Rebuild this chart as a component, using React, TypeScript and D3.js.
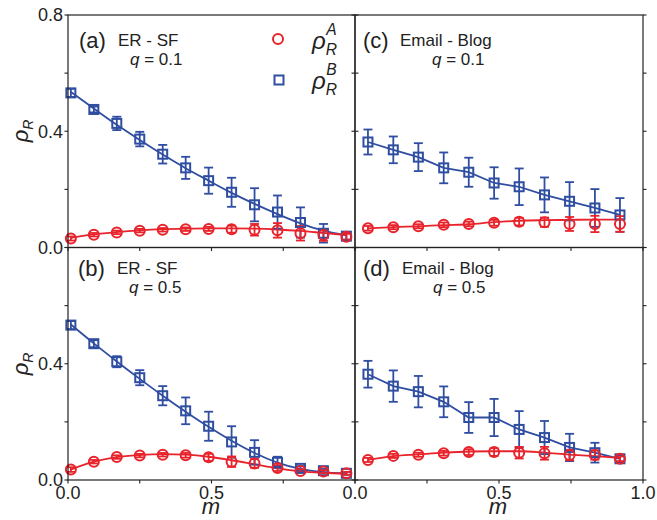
import React from "react";
import * as d3 from "d3";

const mER = [0.01, 0.09, 0.17, 0.25, 0.33, 0.41, 0.49, 0.57, 0.65, 0.73, 0.81, 0.89, 0.97];
const mEB = [0.045, 0.133, 0.22, 0.308, 0.395, 0.483, 0.57, 0.658, 0.745, 0.833, 0.92];

// panel (a)
const aB = [0.532, 0.475, 0.427, 0.373, 0.321, 0.274, 0.23, 0.19, 0.147, 0.122, 0.086, 0.049, 0.039];
const aBerr = [0.014, 0.01, 0.023, 0.025, 0.032, 0.038, 0.045, 0.05, 0.057, 0.057, 0.052, 0.032, 0.012];
const aBfit = [0.535, 0.478, 0.422, 0.37, 0.32, 0.273, 0.23, 0.188, 0.15, 0.115, 0.083, 0.058, 0.042];
const aA = [0.031, 0.044, 0.052, 0.058, 0.061, 0.063, 0.064, 0.063, 0.061, 0.059, 0.049, 0.043, 0.037];
const aAerr = [0.007, 0.006, 0.006, 0.006, 0.006, 0.006, 0.007, 0.012, 0.02, 0.025, 0.025, 0.02, 0.01];
const aAfit = [0.033, 0.045, 0.053, 0.059, 0.063, 0.065, 0.066, 0.066, 0.065, 0.062, 0.057, 0.05, 0.043];

// panel (b)
const bB = [0.533, 0.469, 0.407, 0.352, 0.29, 0.238, 0.185, 0.131, 0.095, 0.061, 0.04, 0.032, 0.023];
const bBerr = [0.014, 0.012, 0.019, 0.026, 0.033, 0.046, 0.05, 0.054, 0.042, 0.019, 0.008, 0.006, 0.005];
const bBfit = [0.535, 0.47, 0.408, 0.348, 0.29, 0.235, 0.183, 0.135, 0.093, 0.06, 0.038, 0.027, 0.022];
const bA = [0.036, 0.063, 0.079, 0.084, 0.087, 0.085, 0.078, 0.063, 0.057, 0.041, 0.031, 0.029, 0.023];
const bAerr = [0.008, 0.006, 0.006, 0.006, 0.006, 0.008, 0.012, 0.018, 0.015, 0.01, 0.006, 0.005, 0.005];
const bAfit = [0.036, 0.063, 0.079, 0.086, 0.089, 0.087, 0.08, 0.068, 0.054, 0.04, 0.03, 0.025, 0.022];

// panel (c)
const cB = [0.363, 0.336, 0.311, 0.274, 0.259, 0.222, 0.209, 0.181, 0.159, 0.136, 0.112];
const cBerr = [0.043, 0.046, 0.048, 0.053, 0.05, 0.054, 0.063, 0.06, 0.066, 0.065, 0.058];
const cA = [0.066, 0.07, 0.073, 0.078, 0.081, 0.085, 0.089, 0.087, 0.081, 0.081, 0.081];
const cAerr = [0.008, 0.007, 0.007, 0.008, 0.008, 0.01, 0.013, 0.016, 0.024, 0.028, 0.027];
const cAfit = [0.066, 0.07, 0.073, 0.077, 0.08, 0.087, 0.092, 0.094, 0.095, 0.096, 0.096];

// panel (d)
const dB = [0.364, 0.323, 0.304, 0.269, 0.215, 0.215, 0.174, 0.146, 0.112, 0.094, 0.073];
const dBerr = [0.046, 0.054, 0.054, 0.053, 0.053, 0.064, 0.063, 0.057, 0.047, 0.034, 0.013];
const dA = [0.069, 0.083, 0.087, 0.092, 0.096, 0.096, 0.094, 0.092, 0.086, 0.086, 0.073];
const dAerr = [0.007, 0.007, 0.007, 0.008, 0.01, 0.013, 0.02, 0.022, 0.018, 0.016, 0.008];
const dAfit = [0.069, 0.082, 0.088, 0.094, 0.098, 0.099, 0.099, 0.094, 0.087, 0.082, 0.075];

const yTickVals = [0, 0.2, 0.4, 0.6, 0.8];
const xTickVals = [0, 0.25, 0.5, 0.75, 1.0];

const RED = "#e8232b";
const BLUE = "#2f4ea2";
const FONT = "'Liberation Sans', Arial, sans-serif";

type PanelSpec = {
  x0: number; x1: number; y0: number; y1: number;
  m: number[];
  B: number[]; Berr: number[]; Bfit: number[];
  A: number[]; Aerr: number[]; Afit: number[];
  smooth: boolean;
  tag: string; net: string; q: string;
  tagX: number; netX: number; qX: number; baseY: number; qY: number;
  yLabels: string[]; xLabels: number[];
};

const fmt = (v: number) => v.toFixed(1);

function Panel({ p }: { p: PanelSpec }) {
  const x = d3.scaleLinear().domain([0, 1]).range([p.x0, p.x1]);
  const y = d3.scaleLinear().domain([0, 0.8]).range([p.y1, p.y0]);
  const line = d3
    .line<number>()
    .x((_, i) => x(p.m[i]))
    .y((v) => y(v))
    .curve(p.smooth ? d3.curveMonotoneX : d3.curveLinear);
  const lineA = d3.line<number>().x((_, i) => x(p.m[i])).y((v) => y(v)).curve(d3.curveMonotoneX);
  const cap = 4.5;
  const tl = 3.5;
  const errBars = (vals: number[], errs: number[], color: string, key: string) =>
    vals.map((v, i) => (
      <g key={key + i} stroke={color} strokeWidth={1.8}>
        <line x1={x(p.m[i])} x2={x(p.m[i])} y1={y(v - errs[i])} y2={y(v + errs[i])} />
        <line x1={x(p.m[i]) - cap} x2={x(p.m[i]) + cap} y1={y(v - errs[i])} y2={y(v - errs[i])} />
        <line x1={x(p.m[i]) - cap} x2={x(p.m[i]) + cap} y1={y(v + errs[i])} y2={y(v + errs[i])} />
      </g>
    ));
  return (
    <g>
      <path d={line(p.Bfit) || ""} fill="none" stroke={BLUE} strokeWidth={1.8} />
      <path d={lineA(p.Afit) || ""} fill="none" stroke={RED} strokeWidth={1.8} />
      {errBars(p.B, p.Berr, BLUE, "be")}
      {errBars(p.A, p.Aerr, RED, "ae")}
      {p.B.map((v, i) => (
        <rect key={"bs" + i} x={x(p.m[i]) - 4.5} y={y(v) - 4.5} width={9} height={9} fill="none" stroke={BLUE} strokeWidth={2} />
      ))}
      {p.A.map((v, i) => (
        <circle key={"ac" + i} cx={x(p.m[i])} cy={y(v)} r={5} fill="none" stroke={RED} strokeWidth={2} />
      ))}
      <rect x={p.x0} y={p.y0} width={p.x1 - p.x0} height={p.y1 - p.y0} fill="none" stroke="#222" strokeWidth={1.2} />
      {yTickVals.map((t) => (
        <g key={"yt" + t} stroke="#222" strokeWidth={1.1}>
          <line x1={p.x0 - tl} x2={p.x0} y1={y(t)} y2={y(t)} />
          <line x1={p.x1} x2={p.x1 + tl} y1={y(t)} y2={y(t)} />
        </g>
      ))}
      {xTickVals.map((t) => (
        <line key={"xt" + t} x1={x(t)} x2={x(t)} y1={p.y1} y2={p.y1 + tl} stroke="#222" strokeWidth={1.1} />
      ))}
      {p.yLabels.map((s) => (
        <text key={"yl" + s} x={p.x0 - 5} y={y(+s)} dy="0.35em" textAnchor="end" fontSize={18} fontFamily={FONT} fill="#222">
          {s}
        </text>
      ))}
      {p.xLabels.map((t) => (
        <text key={"xl" + t} x={x(t)} y={p.y1 + 19} textAnchor="middle" fontSize={18} fontFamily={FONT} fill="#222">
          {fmt(t)}
        </text>
      ))}
      <text x={p.tagX} y={p.baseY + 2} fontSize={22} fontFamily={FONT} fill="#222">{p.tag}</text>
      <text x={p.netX} y={p.baseY} fontSize={17} fontFamily={FONT} fill="#222">{p.net}</text>
      <text x={p.qX} y={p.qY} fontSize={17} fontFamily={FONT} fill="#222">
        <tspan fontStyle="italic">q</tspan> = {p.q}
      </text>
    </g>
  );
}

const panels: PanelSpec[] = [
  { x0: 68, x1: 355, y0: 15, y1: 247.5, m: mER, B: aB, Berr: aBerr, Bfit: aBfit, A: aA, Aerr: aAerr, Afit: aAfit, smooth: true,
    tag: "(a)", net: "ER - SF", q: "0.1", tagX: 79, netX: 118, qX: 130, baseY: 46, qY: 65, yLabels: ["0.0", "0.4", "0.8"], xLabels: [] },
  { x0: 68, x1: 355, y0: 247.5, y1: 480, m: mER, B: bB, Berr: bBerr, Bfit: bBfit, A: bA, Aerr: bAerr, Afit: bAfit, smooth: true,
    tag: "(b)", net: "ER - SF", q: "0.5", tagX: 78, netX: 117, qX: 129, baseY: 274, qY: 293, yLabels: ["0.0", "0.4"], xLabels: [0, 0.5] },
  { x0: 355, x1: 643, y0: 15, y1: 247.5, m: mEB, B: cB, Berr: cBerr, Bfit: cB, A: cA, Aerr: cAerr, Afit: cAfit, smooth: false,
    tag: "(c)", net: "Email - Blog", q: "0.1", tagX: 363, netX: 400, qX: 432, baseY: 46, qY: 65, yLabels: [], xLabels: [] },
  { x0: 355, x1: 643, y0: 247.5, y1: 480, m: mEB, B: dB, Berr: dBerr, Bfit: dB, A: dA, Aerr: dAerr, Afit: dAfit, smooth: false,
    tag: "(d)", net: "Email - Blog", q: "0.5", tagX: 363, netX: 402, qX: 433, baseY: 274, qY: 293, yLabels: [], xLabels: [0, 0.5, 1.0] },
];

function RhoLabel({ x, y, sup, size }: { x: number; y: number; sup?: string; size: number }) {
  return (
    <text x={x} y={y} fontFamily={FONT} fill="#222" fontSize={size} fontStyle="italic">
      ρ
      <tspan fontSize={size * 0.65} dy={size * 0.25}>R</tspan>
      {sup ? (
        <tspan fontSize={size * 0.65} dx={-size * 0.45} dy={-size * 0.85}>{sup}</tspan>
      ) : null}
    </text>
  );
}

export default function App() {
  return (
    <svg width={657} height={520} style={{ display: "block", position: "absolute", left: 0, top: 0 }}>
      <rect width={657} height={520} fill="#fff" />
      {panels.map((p, i) => (
        <Panel key={i} p={p} />
      ))}
      {/* legend */}
      <circle cx={278} cy={39} r={5} fill="none" stroke={RED} strokeWidth={2} />
      <RhoLabel x={312} y={49} sup="A" size={24} />
      <rect x={274.5} y={75.5} width={9} height={9} fill="none" stroke={BLUE} strokeWidth={2} />
      <RhoLabel x={312} y={89} sup="B" size={24} />
      {/* y labels */}
      <g transform="translate(28,131) rotate(-90)">
        <text textAnchor="middle" fontFamily={FONT} fill="#222" fontSize={22} fontStyle="italic">
          ρ<tspan fontSize={14} dy={5}>R</tspan>
        </text>
      </g>
      <g transform="translate(28,364) rotate(-90)">
        <text textAnchor="middle" fontFamily={FONT} fill="#222" fontSize={22} fontStyle="italic">
          ρ<tspan fontSize={14} dy={5}>R</tspan>
        </text>
      </g>
      <text x={211} y={514} textAnchor="middle" fontFamily={FONT} fontSize={22} fontStyle="italic" fill="#222">m</text>
      <text x={498} y={514} textAnchor="middle" fontFamily={FONT} fontSize={22} fontStyle="italic" fill="#222">m</text>
    </svg>
  );
}
